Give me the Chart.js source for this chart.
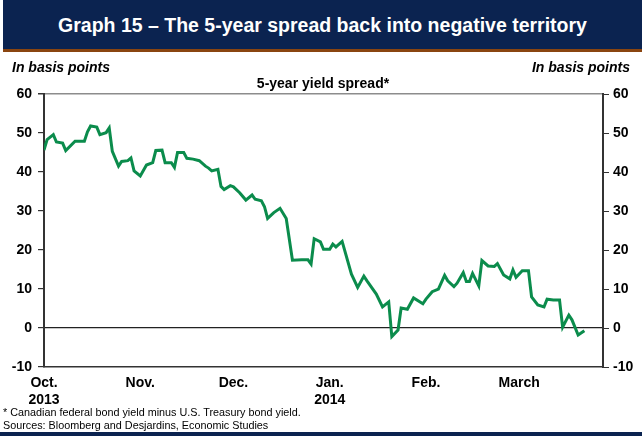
<!DOCTYPE html>
<html>
<head>
<meta charset="utf-8">
<script src="https://cdn.jsdelivr.net/npm/chart.js@4"></script>
<style>
  html, body { margin: 0; padding: 0; background: #fff; }
  body { width: 642px; height: 438px; position: relative; overflow: hidden;
         font-family: "Liberation Sans", Arial, sans-serif; color: #000; }
  #chart { position: absolute; left: 0; top: 0; }
  .titlebar { position: absolute; left: 3px; top: 0; width: 639px; height: 49px;
              background: #0b2350; color: #fff; font-weight: bold; font-size: 19.5px;
              text-align: center; line-height: 50px; }
  .titlerule { position: absolute; left: 3px; top: 49px; width: 639px; height: 3px; background: #8a4510; }
  .unit { position: absolute; top: 59px; font-weight: bold; font-style: italic; font-size: 14px; }
  .unit.left { left: 12px; }
  .unit.right { right: 12px; }
  .series { position: absolute; top: 75px; left: 0; width: 646px; text-align: center;
            font-weight: bold; font-size: 14px; }
  .note { position: absolute; left: 3px; font-size: 10.8px; }
  .bottomrule { position: absolute; left: 0; top: 432px; width: 642px; height: 4px; background: #0b2350; }
</style>
</head>
<body>
<canvas id="chart" width="642" height="438"></canvas>
<div class="titlebar">Graph 15 – The 5-year spread back into negative territory</div>
<div class="titlerule"></div>
<div class="unit left">In basis points</div>
<div class="unit right">In basis points</div>
<div class="series">5-year yield spread*</div>
<div class="note" style="top:406px">* Canadian federal bond yield minus U.S. Treasury bond yield.</div>
<div class="note" style="top:419px">Sources: Bloomberg and Desjardins, Economic Studies</div>
<div class="bottomrule"></div>
<script>
// Days elapsed since October 1, 2013
const days = [
  0, 1, 3, 4, 6, 7, 10, 13, 14, 15,
  17, 18, 20, 21, 22, 24, 25, 27, 28, 29,
  31, 33, 35, 36, 38, 39, 41, 42, 43, 45,
  46, 48, 50, 52, 53, 54, 56, 57, 58, 60,
  61, 63, 65, 67, 68, 70, 71, 72, 74, 76,
  78, 80, 83, 85, 86, 87, 89, 90, 92, 93,
  94, 96, 99, 101, 103, 104, 107, 109, 111, 112,
  114, 115, 117, 119, 122, 123, 125, 127, 129, 130,
  132, 133, 135, 136, 137, 138, 140, 141, 143, 145,
  146, 148, 150, 151, 152, 154, 156, 157, 159, 161,
  162, 164, 166, 167, 169, 170, 172, 174
];

// 5-year yield spread, Canada minus U.S., in basis points
const spread = [
  45.6, 48.3, 49.6, 47.7, 47.4, 45.5, 47.9, 47.9, 50.3, 51.8,
  51.5, 49.6, 50.1, 51.3, 45.3, 41.5, 42.7, 42.9, 43.6, 40.3,
  39.0, 41.8, 42.4, 45.5, 45.6, 42.4, 42.4, 41.2, 45.0, 45.0,
  43.5, 43.3, 42.9, 41.5, 41.0, 40.3, 40.7, 36.3, 35.5, 36.5,
  36.2, 34.7, 32.8, 34.1, 33.0, 32.6, 31.1, 28.1, 29.6, 30.7,
  28.1, 17.4, 17.5, 17.5, 16.4, 22.9, 22.1, 20.2, 20.2, 21.5,
  20.8, 22.2, 13.8, 10.4, 13.3, 12.1, 8.7, 5.4, 6.7, -2.2,
  -0.5, 5.1, 4.8, 7.7, 6.2, 7.4, 9.3, 10.0, 13.5, 12.1,
  10.6, 11.5, 14.2, 11.9, 11.9, 14.0, 10.8, 17.3, 15.9, 15.8,
  16.5, 13.6, 12.6, 14.9, 13.0, 14.7, 14.7, 8.0, 5.9, 5.4,
  7.4, 7.2, 7.2, 0.2, 3.3, 2.1, -1.8, -0.7
];

// Month markers on the time axis
const monthTicks = [0, 31, 61, 92, 123, 153];
const monthLabels = [["Oct.", "2013"], ["Nov."], ["Dec."], ["Jan.", "2014"], ["Feb."], ["March"]];

const yMin = -10, yMax = 60, yStep = 10;

const FONT = '"Liberation Sans", Arial, sans-serif';
const tickFont = { family: FONT, size: 14, weight: 'bold' };

const points = days.map((d, i) => ({ x: d, y: spread[i] }));

new Chart(document.getElementById('chart'), {
  type: 'line',
  data: {
    datasets: [{
      data: points,
      borderColor: '#0b8c4c',
      borderWidth: 3,
      pointRadius: 0,
      tension: 0,
      fill: false,
      yAxisID: 'y'
    }]
  },
  options: {
    responsive: false,
    devicePixelRatio: 1,
    animation: false,
    layout: { padding: { top: 94, left: 0, right: 0, bottom: 0 } },
    plugins: { legend: { display: false }, tooltip: { enabled: false } },
    scales: {
      x: {
        type: 'linear',
        min: 0,
        max: 180,
        afterBuildTicks: axis => { axis.ticks = monthTicks.map(v => ({ value: v })); },
        afterFit: s => { s.height = 71; },
        ticks: {
          autoSkip: false,
          maxRotation: 0,
          padding: 8,
          color: '#000',
          font: tickFont,
          callback: (value, index) => monthLabels[index]
        },
        grid: { display: true, drawOnChartArea: false, drawTicks: false },
        border: { display: true, color: '#333', width: 1.5 }
      },
      y: {
        position: 'left',
        min: yMin,
        max: yMax,
        afterFit: s => { s.width = 44; },
        ticks: { stepSize: yStep, color: '#000', font: tickFont, padding: 6 },
        grid: {
          drawOnChartArea: true,
          color: c => c.tick.value === 0 ? '#222' : (c.tick.value === yMax ? '#8c8c8c' : 'rgba(0,0,0,0)'),
          lineWidth: c => c.tick.value === yMax ? 1.5 : 1.2,
          tickColor: '#333',
          tickLength: 6
        },
        border: { display: true, color: '#333', width: 2 }
      },
      y2: {
        position: 'right',
        min: yMin,
        max: yMax,
        afterFit: s => { s.width = 39; },
        ticks: { stepSize: yStep, color: '#000', font: tickFont, padding: 4 },
        grid: { drawOnChartArea: false, tickColor: '#333', tickLength: 6 },
        border: { display: true, color: '#333', width: 2 }
      }
    }
  }
});
</script>
</body>
</html>
